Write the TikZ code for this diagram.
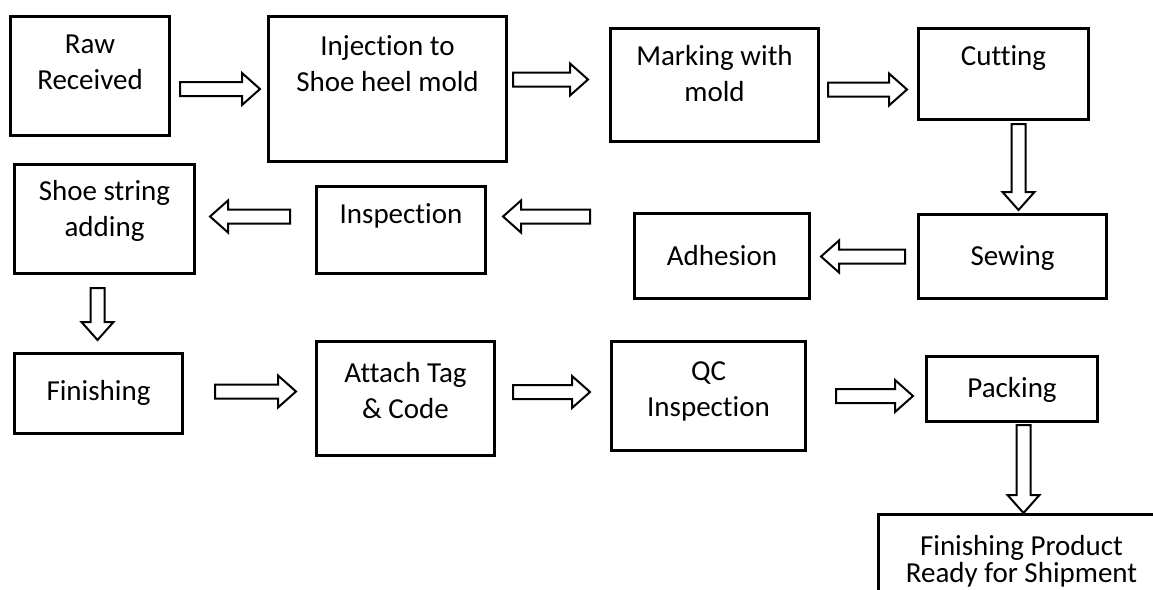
\documentclass[tikz,border=0pt]{standalone}
\usepackage{fontspec}
\setmainfont{Carlito}[Ligatures=CommonOff]
\usetikzlibrary{calc}

\tikzset{
  box/.style={draw, line width=3pt, inner sep=0pt, anchor=north west,
    font=\fontsize{29}{36}\selectfont},
  barrow/.style={draw, line width=2pt, fill=white, line join=miter},
}
\def\shaftw{7pt} \def\headw{16pt} \def\headlen{18pt}
% hollow block arrow between two points
\newcommand{\flowarrow}[2]{%
  \path #1 coordinate (ba1) #2 coordinate (ba2) ($(ba2)!\headlen!(ba1)$) coordinate (ba3);
  \draw[barrow] ($(ba1)!\shaftw!90:(ba2)$) -- ($(ba3)!\shaftw!-90:(ba1)$)
    -- ($(ba3)!\headw!-90:(ba1)$) -- (ba2) -- ($(ba3)!\headw!90:(ba1)$)
    -- ($(ba3)!\shaftw!90:(ba1)$) -- ($(ba1)!\shaftw!-90:(ba2)$) -- cycle;}
% text set from the top of a box: [first baseline]{width}{height}{text}
\newcommand{\steptext}[4][39]{\parbox[t][#3pt][t]{#2pt}{\centering\rule{0pt}{#1pt}#4}}

\begin{document}
\begin{tikzpicture}[x=1pt, y=-1pt]
\useasboundingbox (0,0) rectangle (1153,589);
\clip (0,0) rectangle (1153,589);
% first row
\node[box] (raw)  at (9,15)   {\steptext[37]{159}{119}{Raw\\Received}};
\node[box] (inj)  at (267,15) {\steptext{238}{145}{Injection to\\Shoe heel mold}};
\node[box] (mark) at (609,27) {\steptext[37]{208}{113}{Marking with\\mold}};
\node[box] (cut)  at (917,27) {\steptext[37]{170}{91}{Cutting}};
% second row
\node[box] (sew)  at (917,213) {\steptext[51]{188}{84}{Sewing}};
\node[box] (adh)  at (633,212) {\steptext[52]{175}{85}{Adhesion}};
\node[box] (insp) at (315,185) {\steptext[37]{169}{87}{Inspection}};
\node[box] (shoe) at (13,163)  {\steptext[36]{180}{109}{Shoe string\\adding}};
% third row
\node[box] (fin)  at (13,352)  {\steptext[47]{168}{80}{Finishing}};
\node[box] (tag)  at (315,340) {\steptext[41]{178}{114}{Attach Tag\\\& Code}};
\node[box] (qc)   at (610,340) {\steptext{194}{109}{QC\\Inspection}};
\node[box] (pack) at (925,355) {\steptext[41]{171}{65}{Packing}};
\node[box] (ship) at (877,513) {\steptext[41]{286}{110}{Finishing Product\\[-9pt]Ready for Shipment}};
% arrows
\flowarrow{($(raw.east |- inj.west)+(9,0)$)}{($(inj.west)+(-7,0)$)}
\flowarrow{($(inj.east |- mark.west)+(5,-5.5)$)}{($(mark.west)+(-21,-5.5)$)}
\flowarrow{($(mark.east)+(8,4.5)$)}{($(cut.west |- mark.east)+(-10,4.5)$)}
\flowarrow{($(cut.south -| sew.north)+(6,3)$)}{($(sew.north)+(6,-3)$)}
\flowarrow{($(sew.west)+(-12,0)$)}{($(adh.east |- sew.west)+(10,0)$)}
\flowarrow{($(adh.west |- insp.east)+(-43,-13.5)$)}{($(insp.east)+(16,-13.5)$)}
\flowarrow{($(insp.west |- shoe.east)+(-25,-2.5)$)}{($(shoe.east)+(14,-2.5)$)}
\flowarrow{($(shoe.south -| fin.north)+(-1,13)$)}{($(fin.north)+(-1,-12)$)}
\flowarrow{($(fin.east)+(31,-2)$)}{($(tag.west |- fin.east)+(-19,-2)$)}
\flowarrow{($(tag.east |- qc.west)+(17,-4)$)}{($(qc.west)+(-20,-4)$)}
\flowarrow{($(qc.east)+(29,0)$)}{($(pack.west |- qc.east)+(-12,0)$)}
\flowarrow{($(pack.south)+(11.5,2)$)}{($(ship.north -| pack.south)+(11.5,0)$)}
\end{tikzpicture}
\end{document}
